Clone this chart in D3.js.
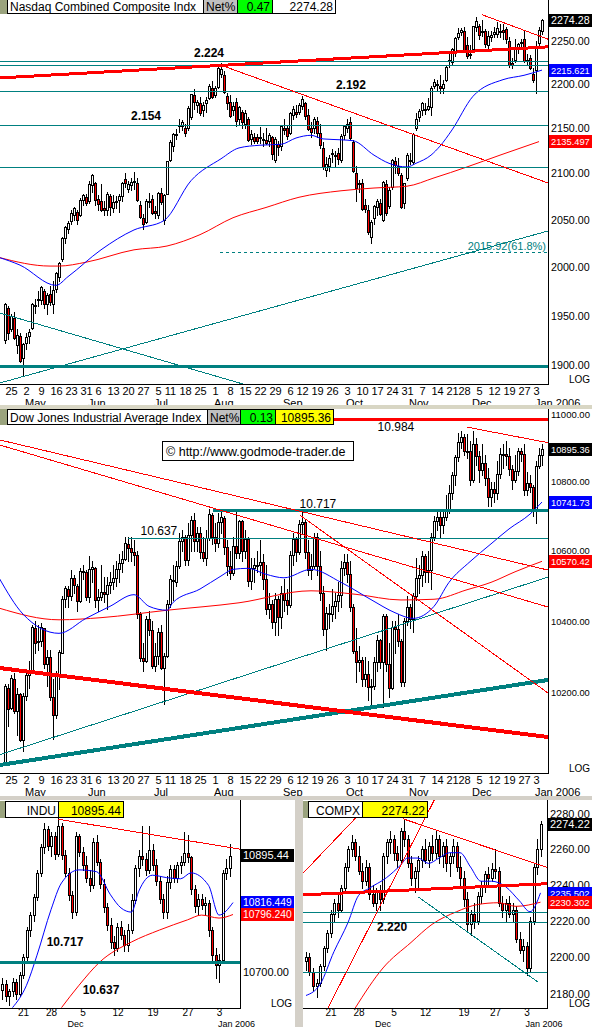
<!DOCTYPE html>
<html>
  <head>
    <meta charset="utf-8">
    <title>Nasdaq / Dow Jones 2005</title>
    <script src="https://d3js.org/d3.v7.min.js"></script>
    <style>
      body { margin: 0; background: #fff; }
      svg { display: block; font-family: "Liberation Sans", Arial, sans-serif; }
      line, rect { shape-rendering: crispEdges; }
    </style>
  </head>
  <body>
    <div id="container"></div>
    <script>
      // ---------- data ----------
      // daily bars [open, high, low, close]; index 0 = Apr 25 2005, first bar is Apr 21 (index -2)
      const dailyStart = -2;
      const compDaily = [
        [1925,1963,1922,1962],[1958,1960,1926,1932],
        [1936,1952,1934,1950],[1948,1954,1926,1927],[1920,1936,1912,1930],[1929,1932,1903,1904],[1907,1922,1890,1921],
        [1922,1932,1916,1928],[1929,1936,1922,1933],[1937,1963,1936,1962],[1960,1967,1953,1961],[1966,1975,1960,1967],
        [1966,1980,1962,1979],[1975,1977,1958,1962],[1962,1973,1952,1971],[1972,1980,1961,1964],[1962,1985,1953,1976],
        [1977,1995,1974,1994],[1990,2005,1986,2004],[2008,2032,2006,2030],[2030,2043,2025,2042],[2040,2049,2036,2046],
        [2048,2060,2045,2057],[2055,2064,2050,2062],[2058,2060,2045,2050],[2055,2073,2054,2071],[2071,2077,2066,2076],
        [2074,2078,2066,2068],[2070,2092,2068,2088],[2087,2099,2080,2098],[2090,2091,2066,2071],
        [2072,2076,2060,2067],[2070,2088,2059,2060],[2062,2070,2055,2060],[2060,2080,2055,2077],[2075,2078,2055,2063],
        [2062,2076,2058,2069],[2070,2075,2062,2069],[2071,2078,2058,2075],[2075,2091,2070,2089],[2094,2100,2085,2090],
        [2083,2092,2080,2088],[2087,2095,2082,2091],[2092,2102,2083,2092],[2090,2095,2070,2071],[2066,2070,2052,2053],
        [2052,2056,2040,2045],[2047,2072,2046,2070],[2070,2079,2063,2069],[2072,2076,2056,2057],[2059,2065,2052,2057],
        [2055,2080,2052,2079],[2079,2084,2067,2069],[2050,2077,2045,2076],[2078,2113,2077,2113],
        [2115,2137,2113,2135],[2130,2145,2125,2143],[2142,2149,2138,2144],[2153,2160,2146,2153],[2152,2159,2148,2157],
        [2150,2155,2141,2145],[2150,2175,2148,2173],[2163,2189,2160,2189],[2188,2194,2172,2179],[2176,2182,2168,2180],
        [2178,2185,2165,2167],[2170,2180,2164,2176],[2178,2185,2168,2182],[2184,2200,2183,2198],[2196,2203,2184,2185],
        [2188,2198,2185,2195],[2197,2220,2196,2218],[2212,2224,2208,2217],[2210,2215,2190,2191],[2186,2190,2172,2178],
        [2180,2188,2163,2164],[2170,2180,2165,2175],[2180,2184,2152,2158],[2160,2175,2154,2174],[2168,2170,2150,2157],
        [2155,2170,2150,2167],[2160,2162,2136,2137],[2138,2148,2132,2143],[2140,2145,2133,2136],[2140,2144,2133,2136],
        [2140,2151,2133,2139],[2138,2145,2130,2137],[2137,2150,2132,2134],[2136,2145,2130,2142],[2140,2141,2116,2121],
        [2115,2140,2112,2138],[2132,2136,2120,2129],[2130,2153,2126,2152],[2150,2160,2144,2148],[2150,2153,2138,2141],
        [2145,2168,2144,2167],[2165,2175,2160,2172],[2168,2176,2163,2166],[2168,2178,2166,2176],
        [2175,2186,2172,2183],[2178,2180,2160,2164],[2165,2172,2148,2149],[2150,2157,2140,2146],[2150,2162,2145,2160],
        [2158,2162,2140,2145],[2145,2155,2128,2131],[2128,2135,2105,2107],[2104,2118,2097,2110],[2108,2120,2103,2117],
        [2122,2127,2112,2121],[2120,2125,2108,2120],[2122,2128,2110,2116],[2115,2143,2112,2141],[2142,2153,2138,2152],
        [2150,2160,2146,2155],[2157,2163,2138,2139],[2135,2137,2102,2103],[2100,2108,2070,2084],[2088,2093,2080,2090],
        [2090,2094,2060,2061],[2066,2072,2058,2061],[2060,2066,2035,2037],[2032,2050,2025,2047],[2052,2066,2045,2065],
        [2063,2072,2055,2070],[2068,2072,2055,2056],[2050,2092,2048,2091],[2088,2093,2055,2057],[2065,2085,2062,2082],
        [2085,2116,2083,2115],[2113,2118,2100,2109],[2108,2117,2098,2100],[2098,2100,2062,2064],[2068,2090,2062,2090],
        [2095,2122,2093,2120],[2115,2122,2110,2114],[2112,2145,2110,2144],[2150,2167,2148,2160],[2162,2172,2158,2169],
        [2170,2180,2165,2178],[2172,2178,2166,2172],[2172,2184,2170,2175],[2174,2198,2165,2196],[2198,2206,2195,2202],
        [2200,2205,2193,2200],[2198,2210,2190,2196],[2195,2205,2190,2200],[2205,2222,2203,2220],[2228,2235,2220,2227],
        [2225,2242,2222,2240],[2236,2254,2232,2253],[2255,2265,2252,2259],[2260,2265,2257,2263],
        [2262,2266,2238,2239],[2245,2255,2230,2232],[2235,2245,2230,2233],[2240,2268,2238,2267],[2266,2278,2262,2273],
        [2268,2270,2252,2257],[2262,2275,2256,2260],[2262,2264,2243,2246],[2245,2262,2240,2256],[2254,2262,2250,2257],
        [2258,2266,2255,2260],[2258,2272,2254,2265],[2262,2270,2255,2262],[2263,2270,2252,2260],[2264,2266,2248,2252],
        [2250,2255,2220,2222],[2224,2230,2218,2222],[2228,2252,2225,2240],[2240,2248,2236,2246],[2247,2252,2244,2249],
        [2252,2262,2225,2226],[2228,2235,2222,2228],[2230,2234,2217,2218],[2212,2218,2202,2205],
        [2216,2250,2190,2244],[2248,2266,2245,2263],[2262,2276,2258,2274]
      ];
      const induDaily = [
        [10012,10225,10005,10218],[10215,10225,10110,10157],
        [10158,10250,10155,10242],[10240,10255,10145,10151],[10150,10215,10085,10198],[10196,10200,10068,10071],[10072,10200,10040,10192],
        [10192,10265,10180,10251],[10250,10290,10215,10256],[10257,10390,10255,10384],[10382,10400,10310,10340],[10342,10390,10320,10345],
        [10345,10395,10330,10384],[10380,10382,10270,10281],[10280,10320,10220,10300],[10300,10320,10180,10189],[10190,10240,10075,10140],
        [10140,10260,10130,10252],[10250,10320,10210,10313],[10312,10470,10310,10464],[10462,10500,10440,10493],[10490,10500,10440,10471],
        [10470,10545,10460,10523],[10522,10530,10480,10503],[10500,10505,10430,10457],[10458,10550,10455,10543],[10542,10560,10520,10542],
        [10540,10545,10460,10467],[10467,10585,10455,10549],[10548,10570,10510,10553],[10552,10555,10440,10460],
        [10460,10490,10430,10467],[10468,10560,10460,10483],[10483,10525,10455,10476],[10476,10525,10435,10503],[10503,10540,10480,10512],
        [10512,10560,10490,10522],[10522,10570,10500,10547],[10547,10590,10510,10566],[10566,10600,10540,10578],[10578,10640,10575,10623],
        [10620,10640,10570,10609],[10609,10640,10570,10596],[10596,10630,10560,10587],[10587,10600,10410,10421],[10420,10425,10290,10297],
        [10297,10340,10260,10290],[10290,10415,10285,10405],[10405,10430,10360,10374],[10374,10400,10270,10275],[10275,10340,10260,10303],
        [10303,10380,10280,10371],[10370,10390,10265,10270],[10270,10310,10170,10302],[10302,10460,10300,10449],
        [10450,10530,10440,10519],[10518,10560,10460,10513],[10512,10570,10500,10557],[10557,10650,10550,10628],[10628,10660,10600,10641],
        [10640,10645,10560,10575],[10575,10680,10560,10646],[10645,10700,10600,10689],[10690,10710,10600,10627],[10627,10670,10600,10651],
        [10650,10670,10580,10596],[10596,10640,10570,10579],[10580,10660,10560,10637],[10637,10720,10630,10705],[10704,10710,10620,10641],
        [10640,10680,10600,10623],[10623,10710,10610,10683],[10683,10720,10650,10697],[10696,10700,10590,10610],[10610,10630,10530,10558],
        [10558,10600,10520,10536],[10536,10640,10530,10615],[10615,10720,10580,10594],[10595,10690,10580,10686],[10685,10690,10570,10600],
        [10600,10660,10580,10634],[10633,10640,10500,10513],[10513,10580,10490,10550],[10550,10580,10510,10559],[10559,10600,10540,10559],
        [10559,10630,10530,10569],[10569,10590,10490,10519],[10519,10560,10420,10434],[10434,10480,10410,10450],[10450,10460,10380,10397],
        [10397,10480,10360,10463],[10463,10470,10360,10412],[10412,10500,10380,10481],[10481,10520,10430,10459],[10459,10490,10420,10447],
        [10447,10600,10440,10589],[10589,10650,10560,10633],[10633,10640,10570,10596],[10596,10690,10590,10678],
        [10678,10720,10650,10682],[10682,10690,10580,10597],[10597,10630,10530,10544],[10544,10590,10520,10558],[10558,10650,10550,10641],
        [10641,10650,10530,10557],[10557,10600,10460,10481],[10481,10500,10360,10378],[10378,10440,10320,10422],[10422,10450,10380,10419],
        [10419,10490,10400,10443],[10443,10480,10410,10456],[10456,10510,10430,10473],[10473,10570,10440,10552],[10552,10590,10530,10569],
        [10569,10590,10510,10535],[10535,10570,10430,10441],[10441,10450,10310,10317],[10317,10380,10230,10287],[10287,10330,10260,10292],
        [10292,10300,10220,10238],[10238,10300,10220,10253],[10253,10290,10180,10216],[10216,10240,10160,10220],[10220,10300,10210,10287],
        [10287,10360,10260,10348],[10348,10350,10270,10285],[10285,10420,10160,10414],[10414,10420,10260,10281],[10281,10340,10190,10215],
        [10215,10400,10210,10385],[10385,10400,10310,10377],[10377,10420,10330,10344],[10344,10350,10220,10229],[10229,10410,10220,10402],
        [10402,10470,10390,10440],[10440,10450,10380,10406],[10406,10480,10370,10472],[10472,10580,10460,10522],[10522,10560,10480,10531],
        [10531,10600,10500,10586],[10586,10590,10510,10540],[10540,10600,10510,10546],[10546,10650,10490,10640],[10640,10700,10630,10686],
        [10686,10720,10660,10697],[10697,10720,10640,10675],[10675,10720,10650,10697],[10697,10760,10690,10720],[10720,10790,10710,10766],
        [10766,10830,10750,10820],[10820,10880,10790,10872],[10872,10945,10860,10916],[10916,10950,10900,10931],
        [10931,10940,10880,10890],[10890,10940,10870,10889],[10889,10920,10790,10806],[10806,10950,10800,10912],[10912,10930,10850,10877],
        [10877,10890,10800,10835],[10835,10910,10820,10856],[10856,10880,10790,10810],[10810,10840,10730,10755],[10755,10800,10730,10778],
        [10778,10800,10740,10767],[10767,10860,10750,10823],[10823,10900,10810,10883],[10883,10910,10840,10881],[10881,10920,10850,10875],
        [10875,10900,10820,10836],[10836,10850,10780,10805],[10805,10880,10800,10833],[10833,10900,10820,10889],[10889,10900,10860,10883],
        [10883,10910,10760,10777],[10777,10830,10760,10796],[10796,10820,10770,10784],[10784,10790,10700,10717],
        [10717,10860,10680,10847],[10847,10900,10840,10880],[10880,10910,10850,10895]
      ];
      // moving averages, [bar index, value]
      const compMa50 = [[-4,2010],[3,2002],[15,1981],[19,1990],[30,2018],[41,2039],[51,2049],[60,2092],[70,2116],[76,2128],[83,2131],[90,2132],[95,2139],[100,2142],[104,2138],[110,2137],[114,2136],[121,2120],[126,2111],[132,2107],[135,2111],[140,2120],[143,2130],[147,2148],[154,2186],[164,2205],[171,2210],[177,2216]];
      const compMa200 = [[-4,2010],[13,2001],[16,2001],[25,2005],[41,2018],[52,2022],[63,2034],[74,2052],[85,2063],[96,2074],[110,2081],[121,2084],[132,2086],[141,2095],[152,2107],[163,2120],[176,2135]];
      const induMa50 = [[-4,10523],[4,10420],[16,10366],[25,10408],[33,10442],[41,10475],[46,10442],[52,10431],[54,10453],[63,10491],[70,10528],[74,10547],[79,10550],[85,10533],[91,10523],[100,10547],[110,10510],[120,10461],[128,10424],[134,10408],[141,10442],[146,10510],[153,10569],[160,10620],[166,10663],[173,10706],[177,10741]];
      const induMa200 = [[-4,10437],[16,10404],[30,10410],[52,10431],[76,10452],[100,10486],[115,10476],[130,10460],[141,10462],[152,10489],[160,10510],[168,10540],[177,10570]];

      // intraday bars (two per session), Nov 16 2005 - Jan 5 2006
      const induIntraday = [
        [10670,10690,10655,10680],[10680,10686,10652,10660],[10660,10672,10645,10668],[10668,10690,10660,10684],[10684,10688,10655,10664],
        [10664,10700,10660,10695],[10695,10730,10690,10725],[10725,10775,10720,10770],[10770,10800,10760,10795],[10795,10830,10785,10825],
        [10825,10870,10820,10865],[10865,10915,10860,10910],[10910,10950,10900,10940],[10940,10945,10905,10912],[10912,10935,10895,10928],
        [10928,10935,10890,10898],[10898,10960,10895,10945],[10945,10950,10890,10896],[10896,10905,10860,10865],[10865,10875,10820,10828],
        [10828,10835,10790,10800],[10800,10935,10795,10928],[10928,10932,10895,10902],[10902,10910,10870,10880],[10880,10895,10850,10858],
        [10858,10870,10835,10845],[10845,10925,10840,10918],[10918,10930,10880,10885],[10885,10890,10840,10848],[10848,10855,10800,10808],
        [10808,10815,10770,10778],[10778,10790,10740,10750],[10750,10760,10728,10740],[10740,10782,10735,10775],[10775,10785,10755,10762],
        [10762,10770,10735,10745],[10745,10780,10735,10770],[10770,10830,10765,10820],[10820,10880,10815,10875],[10875,10905,10860,10895],
        [10895,10945,10880,10890],[10890,10900,10862,10870],[10870,10945,10865,10905],[10905,10915,10870,10880],[10880,10890,10845,10852],
        [10852,10860,10815,10822],[10822,10830,10790,10800],[10800,10860,10790,10850],[10850,10880,10840,10872],[10872,10880,10850,10858],
        [10858,10885,10850,10880],[10880,10895,10865,10885],[10885,10935,10880,10900],[10900,10930,10885,10892],[10892,10895,10830,10838],
        [10838,10845,10800,10810],[10810,10830,10795,10822],[10822,10830,10805,10812],[10812,10825,10795,10815],[10815,10820,10760,10770],
        [10770,10775,10720,10728],[10728,10740,10690,10712],[10712,10730,10683,10720],[10720,10870,10715,10865],[10865,10890,10855,10875],
        [10875,10915,10860,10895]
      ];
      const compIntraday = [
        [2198,2203,2193,2200],[2200,2202,2190,2192],[2192,2194,2182,2184],[2184,2188,2178,2186],[2186,2196,2184,2195],
        [2195,2206,2193,2205],[2205,2215,2203,2213],[2213,2226,2211,2224],[2224,2232,2220,2230],[2230,2236,2222,2226],
        [2226,2240,2225,2238],[2238,2252,2236,2250],[2250,2262,2248,2260],[2260,2268,2256,2264],[2264,2266,2254,2256],
        [2256,2262,2246,2248],[2248,2252,2238,2242],[2242,2254,2240,2250],[2250,2252,2232,2235],[2235,2240,2228,2230],
        [2230,2238,2226,2236],[2236,2240,2226,2232],[2232,2258,2230,2256],[2256,2266,2252,2264],[2264,2270,2258,2266],
        [2266,2268,2254,2258],[2258,2262,2250,2254],[2254,2272,2252,2270],[2270,2277,2262,2266],[2266,2268,2250,2252],
        [2252,2256,2240,2244],[2244,2250,2236,2248],[2248,2256,2238,2254],[2254,2262,2250,2260],[2260,2266,2252,2254],
        [2254,2264,2250,2262],[2262,2268,2254,2258],[2258,2270,2255,2266],[2266,2268,2252,2256],[2256,2264,2250,2262],
        [2262,2266,2248,2252],[2252,2258,2245,2256],[2256,2266,2252,2262],[2262,2264,2248,2250],[2250,2256,2240,2244],
        [2244,2248,2228,2232],[2232,2236,2214,2218],[2218,2226,2212,2224],[2224,2230,2216,2220],[2220,2236,2218,2234],
        [2234,2242,2230,2240],[2240,2248,2236,2246],[2246,2250,2240,2244],[2244,2252,2242,2249],[2249,2260,2244,2248],
        [2248,2250,2228,2230],[2230,2234,2222,2226],[2226,2232,2220,2230],[2230,2234,2222,2224],[2224,2230,2220,2226],
        [2226,2228,2208,2210],[2210,2214,2202,2204],[2204,2210,2198,2206],[2206,2208,2190,2194],[2194,2222,2192,2220],
        [2220,2252,2218,2250],[2250,2266,2246,2260],[2260,2276,2256,2274]
      ];
      const induFastMa = [[3,10641],[7,10678],[10,10728],[14,10804],[17,10849],[22,10871],[27,10868],[31,10829],[34,10807],[37,10800],[39,10834],[43,10862],[47,10858],[51,10856],[54,10866],[59,10845],[62,10795],[66,10816]];
      const induSlowMa = [[17,10641],[22,10678],[28,10717],[37,10750],[45,10770],[53,10787],[57,10795],[62,10790],[66,10796]];
      const compFastMa = [[0,2179],[4,2185],[8,2203],[12,2219],[15,2234],[18,2238],[23,2244],[27,2251],[29,2255],[32,2255],[35,2252],[38,2255],[41,2258],[44,2258],[47,2250],[50,2242],[53,2242],[57,2239],[61,2231],[64,2225],[67,2235.5]];
      const compSlowMa = [[14,2172],[22,2194],[30,2208],[36,2218],[43,2225],[49,2229],[55,2230],[60,2228],[67,2230.3]];

      // trend lines [index1, value1, index2, value2] and horizontal levels
      const compResistance = [[-3.7,2207,179,2243]];
      const compRedLines = [[69.7,2222,179,2089.5],[156.9,2281,179,2252]];
      const compTealLines = [[-3.7,1952.7,77.3,1881.8],[-3.7,1882.8,179,2037.9]];
      const compLevels = [2227,2222,2192,2154,2107];
      const compFloor = [1900];
      const compFib = [69.7, 2015.92];
      const induResistance = [10984];
      const induRedLines = [[-3.7,10923,179,10545],[-3.7,10908,179,10440],[96.3,10703,179,10200],[152,10961,179,10915]];
      const induThickRed = [[-3.7,10269,179,10079]];
      const induThickTeal = [[-3.7,10003,179,10236]];
      const induTealLines = [[-3.7,10031,179,10525]];
      const induLevels = [[67.3,10717,3],[39,10637,1]];
      const induIntraRed = [[16,10957,68,10906]];
      const induIntraLevels = [10717];
      const compIntraThickRed = [[-0.9,2234.4,68.9,2240.6]];
      const compIntraRed = [[27.7,2277.2,68.9,2249.7],[-0.9,2246.4,15.4,2280.2],[6.3,2172.3,37.4,2290.8]];
      const compIntraTeal = [[32,2233.3,66.3,2186.3]];
      const compIntraLevels = [2225,2219.5,2192];

      // annotations [index, value, text]
      const compNotes = [[66,2231,"2.224"],[45,2159,"2.154"],[113.3,2194.4,"2.192"]];
      const induNotes = [[128.3,10949,"10.984"],[102.3,10724,"10.717"],[49.3,10646,"10.637"]];
      const induIntraNotes = [[18,10743,"10.717"],[28.3,10663,"10.637"]];
      const compIntraNotes = [[24.6,2214.3,"2.220"]];

      // axis ticks
      const dayTicks = [[0,"25"],[5,"2"],[10,"9"],[15,"16"],[20,"23"],[25,"31"],[29,"6"],[34,"13"],[39,"20"],[44,"27"],[49,"5"],[53,"11"],[58,"18"],[63,"25"],[68,"1"],[73,"8"],[78,"15"],[83,"22"],[88,"29"],[93,"6"],[97,"12"],[102,"19"],[107,"26"],[112,"3"],[117,"10"],[122,"17"],[127,"24"],[132,"31"],[137,"7"],[142,"14"],[147,"21"],[151,"28"],[156,"5"],[161,"12"],[166,"19"],[171,"27"],[175,"3"]];
      const monthTicks = [[5,"May"],[26,"Jun"],[48,"Jul"],[68,"Aug"],[91,"Sep"],[112,"Oct"],[133,"Nov"],[154,"Dec"],[175,"Jan 2006"]];
      const induTicks = [[6,"21"],[14,"28"],[23,"5"],[33,"12"],[43,"19"],[53,"27"],[62,"3"]];
      const induMonths = [[19,"Dec"],[62,"Jan 2006"]];
      const compTicks = [[7,"21"],[15,"28"],[25,"5"],[34,"12"],[45,"19"],[54,"27"],[63,"3"]];
      const compMonths = [[20,"Dec"],[63,"Jan 2006"]];
      const compYTicks = [1900,1950,2000,2050,2100,2150,2200,2250];
      const induYTicks = [10200,10400,10600,10800,11000];
      const induIntraYTicks = [10700];
      const compIntraYTicks = [2180,2200,2220,2240,2260,2280];

      // ---------- drawing ----------
      const FONT = '"Liberation Sans", Arial, sans-serif';
      const TEAL = "#008080", RED = "#ff0000", BLUE = "#0000ff";
      const svg = d3.select("#container").append("svg").attr("width", 592).attr("height", 1027);
      svg.append("rect").attr("width", 592).attr("height", 1027).attr("fill", "#fff");

      function makePanel(p) {
        const g = svg.append("g");
        const x = d3.scaleLinear().domain(p.xDomain).range(p.xRange);
        const y = d3.scaleLog().domain(p.yDomain).range([p.bottom, p.top]);
        g.append("clipPath").attr("id", "clip" + p.name).append("rect")
          .attr("x", p.left).attr("y", p.top).attr("width", p.right - p.left).attr("height", p.bottom - p.top);
        const plot = g.append("g").attr("clip-path", "url(#clip" + p.name + ")");
        return { g: g, plot: plot, x: x, y: y, p: p };
      }

      // shrink the font of a label until it fits the room left of the panel's edge
      function fit(sel, room) {
        sel.each(function() {
          const t = d3.select(this);
          const w = this.getComputedTextLength();
          if (w > room) t.attr("font-size", Math.floor(11 * room / w * 10) / 10);
        });
      }

      function candles(pn, bars, start) {
        const g = pn.plot.append("g");
        bars.forEach(function(d, k) {
          const cx = Math.round(pn.x(start + k));
          g.append("line")
            .attr("x1", cx + 0.5).attr("x2", cx + 0.5)
            .attr("y1", Math.round(pn.y(d[1]))).attr("y2", Math.round(pn.y(d[2])) + 1)
            .attr("stroke", "#000");
          const y1 = Math.round(pn.y(Math.max(d[0], d[3])));
          const y2 = Math.round(pn.y(Math.min(d[0], d[3])));
          g.append("rect")
            .attr("x", cx - 0.5).attr("y", y1 + 0.5)
            .attr("width", 2).attr("height", Math.max(y2 - y1, 1))
            .attr("fill", d[3] < d[0] ? RED : "#fff")
            .attr("stroke", "#000");
        });
      }

      function levels(pn, vals, from, color, width, dash) {
        pn.plot.selectAll(null).data(vals).join("line")
          .attr("x1", from == null ? pn.p.left : pn.x(from)).attr("x2", pn.p.right)
          .attr("y1", d => Math.round(pn.y(d)) + (width % 2 ? 0.5 : 0))
          .attr("y2", d => Math.round(pn.y(d)) + (width % 2 ? 0.5 : 0))
          .attr("stroke", color).attr("stroke-width", width)
          .attr("stroke-dasharray", dash || null);
      }

      function segments(pn, segs, color, width) {
        pn.plot.selectAll(null).data(segs).join("line")
          .attr("x1", d => pn.x(d[0])).attr("y1", d => pn.y(d[1]))
          .attr("x2", d => pn.x(d[2])).attr("y2", d => pn.y(d[3]))
          .attr("stroke", color).attr("stroke-width", width);
      }

      function average(pn, pts, color) {
        const line = d3.line()
          .x(d => pn.x(d[0])).y(d => pn.y(d[1]))
          .curve(d3.curveMonotoneX);
        pn.plot.append("path").datum(pts)
          .attr("d", line).attr("fill", "none")
          .attr("stroke", color).attr("stroke-width", 1);
      }

      function notes(pn, list, bold) {
        pn.plot.selectAll(null).data(list).join("text")
          .attr("x", d => pn.x(d[0])).attr("y", d => pn.y(d[1]))
          .attr("text-anchor", "middle")
          .attr("font-size", 12).attr("font-weight", bold ? "bold" : "normal")
          .attr("font-family", FONT)
          .text(d => d[2]);
      }

      function frame(pn) {
        const p = pn.p;
        pn.g.append("line").attr("x1", p.right + 0.5).attr("x2", p.right + 0.5)
          .attr("y1", p.top).attr("y2", p.bottom + 1).attr("stroke", "#000");
        pn.g.append("line").attr("x1", p.left).attr("x2", p.right + 1)
          .attr("y1", p.bottom + 0.5).attr("y2", p.bottom + 0.5).attr("stroke", "#000");
      }

      function yAxis(pn, ticks) {
        const axis = d3.axisRight(pn.y).tickValues(ticks)
          .tickFormat(d3.format(".2f")).tickSize(0).tickPadding(3);
        const a = pn.g.append("g").attr("transform", "translate(" + pn.p.right + ",0)").call(axis);
        a.select(".domain").remove();
        a.selectAll("text").attr("font-size", 11).attr("font-family", FONT).attr("fill", "#000")
          .call(fit, pn.p.outer - pn.p.right - 5);
      }

      // pad: gap under the axis line, monthY: baseline of the month row below it
      function xAxis(pn, ticks, months, pad, daySize, monthY, monthSize) {
        const axis = d3.axisBottom(pn.x).tickValues(ticks.map(d => d[0]))
          .tickFormat((d, k) => ticks[k][1]).tickSize(0).tickPadding(pad);
        const a = pn.g.append("g").attr("transform", "translate(0," + pn.p.bottom + ")").call(axis);
        a.select(".domain").remove();
        a.selectAll("text").attr("font-size", daySize).attr("font-family", FONT).attr("fill", "#000");
        pn.g.selectAll(null).data(months).join("text")
          .attr("x", d => pn.x(d[0]) - 1).attr("y", pn.p.bottom + monthY)
          .attr("font-size", monthSize).attr("font-family", FONT)
          .text(d => d[1]);
      }

      function valueBox(pn, value, fill, label) {
        const yy = Math.round(pn.y(value));
        pn.g.append("rect").attr("x", pn.p.right + 1).attr("y", yy - 6)
          .attr("width", pn.p.outer - pn.p.right - 1).attr("height", 13).attr("fill", fill);
        pn.g.append("text").attr("x", pn.p.right + 3).attr("y", yy + 4)
          .attr("font-size", 11).attr("font-family", FONT).attr("fill", "#fff")
          .text(label)
          .call(fit, pn.p.outer - pn.p.right - 5);
      }

      function logLabel(pn) {
        pn.g.append("text").attr("x", pn.p.outer - 2).attr("y", pn.p.bottom - 1)
          .attr("text-anchor", "end")
          .attr("font-size", 10).attr("font-family", FONT).text("LOG");
      }

      function header(y0, h, cells) {
        const g = svg.append("g");
        cells.forEach(function(c) {
          g.append("rect").attr("x", c[0] + 0.5).attr("y", y0 + 0.5)
            .attr("width", c[1]).attr("height", h)
            .attr("fill", c[2]).attr("stroke", c[3] ? "#000" : c[2]);
          if (c[3]) {
            g.append("text")
              .attr("x", c[4] === "end" ? c[0] + c[1] - 2 : c[0] + 3)
              .attr("y", y0 + h - 2)
              .attr("text-anchor", c[4] || "start")
              .attr("font-size", 12).attr("font-family", FONT)
              .text(c[3]);
          }
        });
      }

      // ---- Nasdaq daily ----
      const pTop = makePanel({ name: "comp", left: 0, right: 548, outer: 592, top: 0, bottom: 384,
        xDomain: [0, 177], xRange: [11, 542], yDomain: [1881.8, 2298.4] });
      candles(pTop, compDaily, dailyStart);
      average(pTop, compMa200, RED);
      average(pTop, compMa50, BLUE);
      levels(pTop, compLevels, null, TEAL, 1);
      levels(pTop, compFloor, null, TEAL, 3);
      levels(pTop, [compFib[1]], compFib[0], TEAL, 1, "3,3");
      segments(pTop, compTealLines, TEAL, 1);
      segments(pTop, compRedLines, RED, 1);
      segments(pTop, compResistance, RED, 3);
      notes(pTop, compNotes, true);
      pTop.plot.append("text")
        .attr("x", pTop.p.right - 2).attr("y", Math.round(pTop.y(compFib[1])) - 2)
        .attr("text-anchor", "end").attr("font-size", 11).attr("font-family", FONT)
        .attr("fill", TEAL).text("2015.92(61.8%)");
      frame(pTop);
      yAxis(pTop, compYTicks);
      xAxis(pTop, dayTicks, monthTicks, 3, 11, 23, 11);
      valueBox(pTop, 2274.28, "#000", "2274.28");
      valueBox(pTop, 2215.621, BLUE, "2215.621");
      valueBox(pTop, 2135.497, RED, "2135.497");
      logLabel(pTop);

      // separator
      svg.append("rect").attr("x", 0).attr("y", 405).attr("width", 592).attr("height", 4).attr("fill", "#d8d6c4");

      // ---- Dow daily ----
      const pMid = makePanel({ name: "indu", left: 0, right: 548, outer: 592, top: 409, bottom: 773,
        xDomain: [0, 177], xRange: [11, 542], yDomain: [9981.4, 11014.9] });
      candles(pMid, induDaily, dailyStart);
      average(pMid, induMa200, RED);
      average(pMid, induMa50, BLUE);
      levels(pMid, [induLevels[1][1]], induLevels[1][0], TEAL, 1);
      levels(pMid, [induLevels[0][1]], induLevels[0][0], TEAL, 3);
      levels(pMid, induResistance, null, RED, 3);
      segments(pMid, induTealLines, TEAL, 1);
      segments(pMid, induThickTeal, TEAL, 4);
      segments(pMid, induThickRed, RED, 4);
      segments(pMid, induRedLines, RED, 1);
      notes(pMid, induNotes, false);
      frame(pMid);
      yAxis(pMid, induYTicks);
      xAxis(pMid, dayTicks, monthTicks, 3, 11, 23, 11);
      valueBox(pMid, 10895.36, "#000", "10895.36");
      valueBox(pMid, 10741.73, BLUE, "10741.73");
      valueBox(pMid, 10570.42, RED, "10570.42");
      logLabel(pMid);

      // watermark
      svg.append("rect").attr("x", 162.5).attr("y", 441.5).attr("width", 191).attr("height", 19)
        .attr("fill", "#fff").attr("stroke", "#000");
      svg.append("text").attr("x", 166).attr("y", 456).attr("font-size", 12.5).attr("font-family", FONT)
        .text("\u00a9 http://www.godmode-trader.de");

      // bottom window frame
      svg.append("rect").attr("x", 0).attr("y", 796).attr("width", 592).attr("height", 4).attr("fill", "#d4d0c8");
      svg.append("rect").attr("x", 295).attr("y", 796).attr("width", 8).attr("height", 231).attr("fill", "#d4d0c8");

      // ---- INDU intraday ----
      const pLeft = makePanel({ name: "indui", left: 0, right: 240, outer: 294, top: 800, bottom: 1008,
        xDomain: [0, 65], xRange: [2, 229.5], yDomain: [10640.4, 10989.6] });
      candles(pLeft, induIntraday, 0);
      average(pLeft, induSlowMa, RED);
      average(pLeft, induFastMa, BLUE);
      levels(pLeft, induIntraLevels, null, TEAL, 3);
      segments(pLeft, induIntraRed, RED, 1);
      notes(pLeft, induIntraNotes, true);
      frame(pLeft);
      yAxis(pLeft, induIntraYTicks);
      xAxis(pLeft, induTicks, induMonths, 1, 10, 18.5, 9);
      valueBox(pLeft, 10895.44, "#000", "10895.44");
      valueBox(pLeft, 10816.449, BLUE, "10816.449");
      valueBox(pLeft, 10796.240, RED, "10796.240");
      logLabel(pLeft);

      // ---- COMPX intraday ----
      const pRight = makePanel({ name: "compi", left: 303, right: 547, outer: 592, top: 800, bottom: 1008,
        xDomain: [0, 67], xRange: [306, 540.5], yDomain: [2172.2, 2287.9] });
      candles(pRight, compIntraday, 0);
      average(pRight, compSlowMa, RED);
      average(pRight, compFastMa, BLUE);
      levels(pRight, compIntraLevels, null, TEAL, 1);
      segments(pRight, compIntraTeal, TEAL, 1);
      segments(pRight, compIntraRed, RED, 1);
      segments(pRight, compIntraThickRed, RED, 3);
      notes(pRight, compIntraNotes, true);
      frame(pRight);
      yAxis(pRight, compIntraYTicks);
      xAxis(pRight, compTicks, compMonths, 1, 10, 18.5, 9);
      valueBox(pRight, 2274.22, "#000", "2274.22");
      valueBox(pRight, 2235.502, BLUE, "2235.502");
      valueBox(pRight, 2230.302, RED, "2230.302");
      logLabel(pRight);

      // ---- header bars ----
      header(-1, 14, [[0, 7, "#9aa37e"], [7, 196, "#fff", "Nasdaq Combined Composite Indx"], [203, 34, "#c0c0c0", "Net%"],
        [237, 35, "#00ff00", "0.47", "end"], [272, 63, "#fff", "2274.28", "end"]]);
      header(409, 15, [[0, 7, "#9aa37e"], [7, 200, "#fff", "Dow Jones Industrial Average Index"], [207, 33, "#c0c0c0", "Net%"],
        [240, 35, "#00ff00", "0.13", "end"], [275, 58, "#ffff00", "10895.36", "end"]]);
      header(801, 16, [[0, 5, "#9aa37e"], [5, 53, "#fff", "INDU", "end"], [58, 65, "#ffff00", "10895.44", "end"]]);
      header(801, 16, [[303, 5, "#9aa37e"], [308, 54, "#fff", "COMPX", "end"], [362, 65, "#ffff00", "2274.22", "end"]]);
    </script>
  </body>
</html>
